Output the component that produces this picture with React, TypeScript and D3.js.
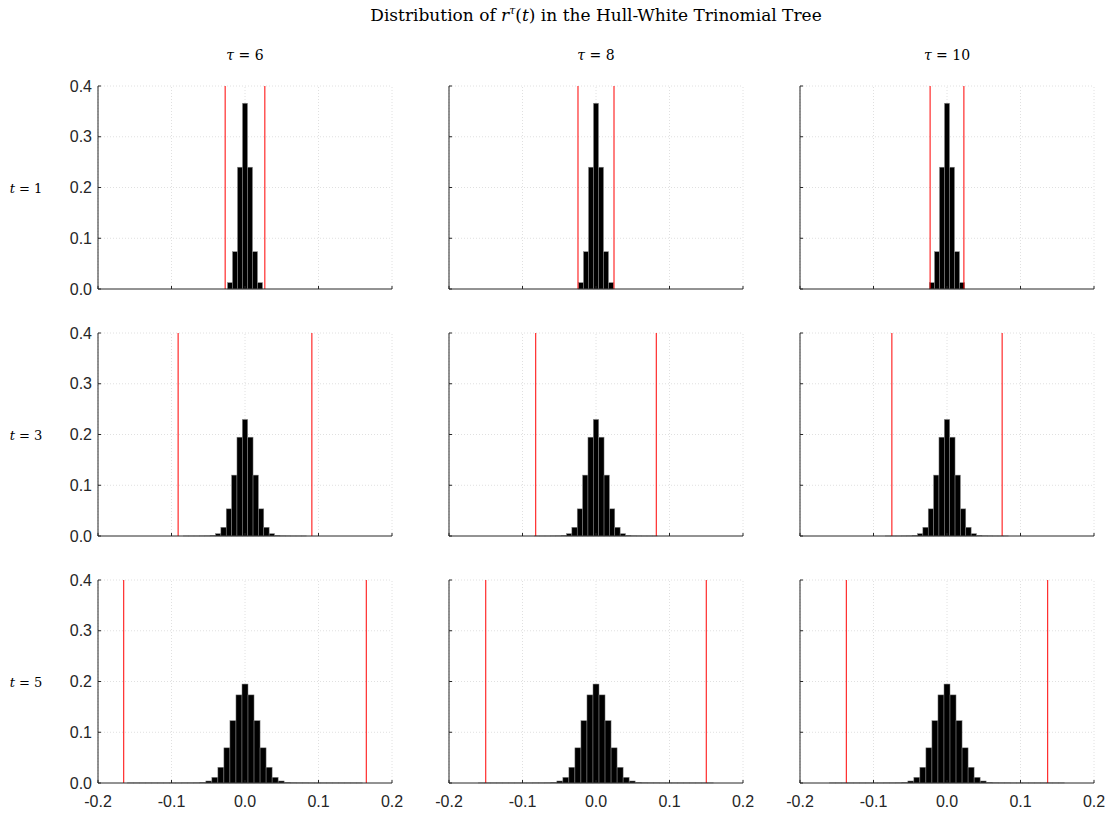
import React from "react";
import * as d3 from "d3";

const TAUS = [6, 8, 10];
const TIMES = [1, 3, 5];
const X_TICKS = [-0.2, -0.1, 0, 0.1, 0.2];
const Y_TICKS = [0, 0.1, 0.2, 0.3, 0.4];

// histogram bin widths per time row
const BIN_WIDTHS = [0.0068, 0.0073, 0.0082];

// probabilities per bin (centred on 0), one array per time row
const PROBS_T1 = [0.0125, 0.0735, 0.24, 0.366, 0.24, 0.0735, 0.0125];
const PROBS_T3 = [
  0.0001, 0.0001, 0.0001, 0.0002, 0.0003, 0.001, 0.0046, 0.0172, 0.0535, 0.12, 0.1947, 0.2297,
  0.1947, 0.12, 0.0535, 0.0172, 0.0046, 0.001, 0.0003, 0.0002, 0.0001, 0.0001, 0.0001,
];
const PROBS_T5 = [
  0.0002, 0.0002, 0.0002, 0.0002, 0.0002, 0.0002, 0.0002, 0.0002, 0.0002, 0.0003, 0.0003, 0.0004,
  0.001, 0.004, 0.0112, 0.031, 0.0693, 0.1228, 0.1736, 0.195,
  0.1736, 0.1228, 0.0693, 0.031, 0.0112, 0.004, 0.001, 0.0004, 0.0003, 0.0003, 0.0002, 0.0002,
  0.0002, 0.0002, 0.0002, 0.0002, 0.0002, 0.0002, 0.0002,
];
const PROBS = [PROBS_T1, PROBS_T3, PROBS_T5];

// red bounds (±) per row (time) and column (tau)
const BOUNDS = [
  [0.027, 0.0245, 0.023],
  [0.091, 0.082, 0.075],
  [0.165, 0.15, 0.137],
];

const COL_X = [98, 449, 800];
const ROW_Y = [86, 333, 580];
const PW = 294;
const PH = 203;

const AX = "#262626";
const SANS = "'Liberation Sans', Arial, Helvetica, sans-serif";
const SERIF = "'DejaVu Serif', 'Liberation Serif', serif";
const fmt = (t: number) => t.toFixed(1);

function Panel({ r, c }: { r: number; c: number }) {
  const x0 = COL_X[c];
  const y0 = ROW_Y[r];
  const x = d3.scaleLinear().domain([-0.2, 0.2]).range([x0, x0 + PW]);
  const y = d3.scaleLinear().domain([0, 0.4]).range([y0 + PH, y0]);
  const probs = PROBS[r];
  const w = BIN_WIDTHS[r];
  const n = probs.length;
  const mid = (n - 1) / 2;
  const b = BOUNDS[r][c];
  return (
    <g>
      {X_TICKS.map((t) => (
        <line key={"gx" + t} x1={x(t)} x2={x(t)} y1={y(0)} y2={y(0.4)} stroke="#d8d8d8" strokeWidth={0.8} strokeDasharray="1,2" />
      ))}
      {Y_TICKS.filter((t) => t > 0).map((t) => (
        <line key={"gy" + t} x1={x(-0.2)} x2={x(0.2)} y1={y(t)} y2={y(t)} stroke="#d8d8d8" strokeWidth={0.8} strokeDasharray="1,2" />
      ))}
      {probs.map((p, i) => {
        const cx = (i - mid) * w;
        const xa = x(cx - w / 2);
        const xb = x(cx + w / 2);
        return (
          <rect key={i} x={xa} y={y(p)} width={xb - xa} height={Math.max(0, y(0) - y(p))} fill="#000" stroke="#8a8a8a" strokeWidth={0.5} />
        );
      })}
      {[-b, b].map((v, i) => (
        <line key={"b" + i} x1={x(v)} x2={x(v)} y1={y(0)} y2={y(0.4)} stroke="#ff0000" strokeWidth={1} />
      ))}
      <line x1={x(-0.2)} x2={x(0.2)} y1={y(0)} y2={y(0)} stroke={AX} strokeWidth={1} />
      <line x1={x(-0.2)} x2={x(-0.2)} y1={y(0)} y2={y(0.4)} stroke={AX} strokeWidth={1} />
      {X_TICKS.map((t) => (
        <line key={"tx" + t} x1={x(t)} x2={x(t)} y1={y(0)} y2={y(0) - 3} stroke={AX} strokeWidth={1} />
      ))}
      {Y_TICKS.map((t) => (
        <line key={"ty" + t} x1={x(-0.2)} x2={x(-0.2) + 3} y1={y(t)} y2={y(t)} stroke={AX} strokeWidth={1} />
      ))}
      {c === 0 &&
        Y_TICKS.map((t) => (
          <text key={"ly" + t} x={x(-0.2) - 6} y={y(t)} dy="0.35em" textAnchor="end" fontFamily={SANS} fontSize={16} fill={AX}>
            {fmt(t)}
          </text>
        ))}
      {r === 2 &&
        X_TICKS.map((t) => (
          <text key={"lx" + t} x={x(t)} y={y(0) + 24} textAnchor="middle" fontFamily={SANS} fontSize={16} fill={AX}>
            {fmt(t)}
          </text>
        ))}
    </g>
  );
}

export default function App() {
  return (
    <svg width={1112} height={814} style={{ position: "absolute", left: 0, top: 0, background: "#fff" }}>
      <rect width={1112} height={814} fill="#fff" />
      <text x={596} y={21} textAnchor="middle" fontFamily={SERIF} fontSize={17} fill="#000">
        Distribution of <tspan fontStyle="italic">r</tspan>
        <tspan fontStyle="italic" fontSize={11} dy={-7}>τ</tspan>
        <tspan dy={7}>(</tspan>
        <tspan fontStyle="italic">t</tspan>) in the Hull-White Trinomial Tree
      </text>
      {TAUS.map((tau, c) => (
        <text key={"tau" + c} x={COL_X[c] + PW / 2} y={60} textAnchor="middle" fontFamily={SERIF} fontSize={14} fill="#000">
          <tspan fontStyle="italic">τ</tspan> = {tau}
        </text>
      ))}
      {TIMES.map((t, r) => (
        <text key={"t" + r} x={26} y={ROW_Y[r] + PH / 2 + 5} textAnchor="middle" fontFamily={SERIF} fontSize={13} fill="#000">
          <tspan fontStyle="italic">t</tspan> = {t}
        </text>
      ))}
      {TIMES.map((_, r) => TAUS.map((__, c) => <Panel key={r + "-" + c} r={r} c={c} />))}
    </svg>
  );
}
